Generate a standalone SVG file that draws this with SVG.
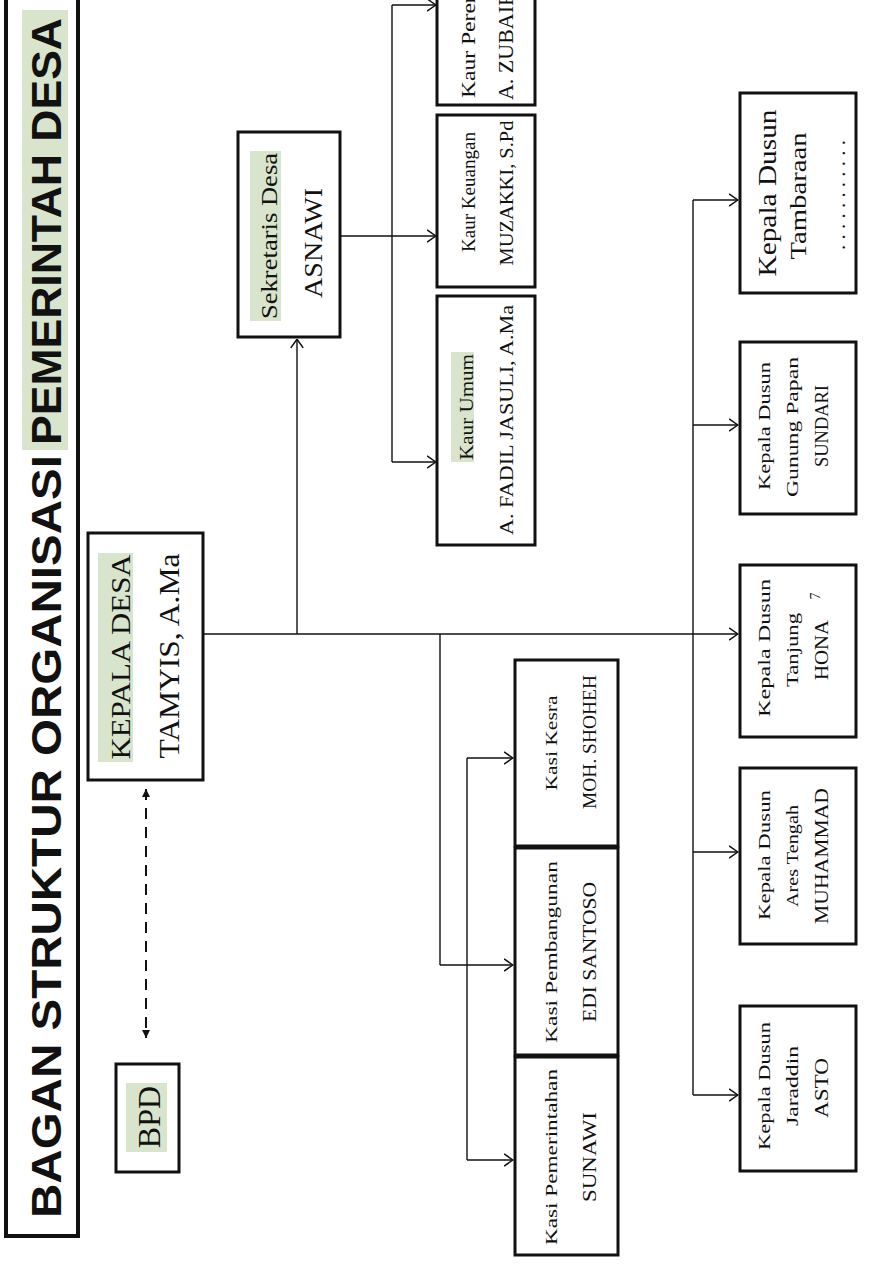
<svg xmlns="http://www.w3.org/2000/svg" width="877" height="1268" viewBox="0 0 877 1268">
  <defs>
    <style>
      .box { fill: #ffffff; stroke: #111111; stroke-width: 3; }
      .ttl { fill: #ffffff; stroke: #111111; stroke-width: 4; }
      .hl { fill: #d9e4cc; }
      .s { font-family: "Liberation Serif", "Times New Roman", serif; fill: #111111; text-anchor: middle; }
      .st { text-anchor: start; }
      .h { font-family: "Liberation Sans", Arial, sans-serif; font-weight: bold; fill: #111111; }
      .ln { fill: none; stroke: #111111; stroke-width: 1.4; }
      .ar { marker-end: url(#open); }
      .dash { fill: none; stroke: #111111; stroke-width: 2; stroke-dasharray: 11 8; }
    </style>
    <marker id="open" viewBox="0 0 10 14" refX="9.5" refY="7" markerWidth="10" markerHeight="14" markerUnits="userSpaceOnUse" orient="auto">
      <path d="M0.6,0.8 L9.3,7 L0.6,13.2" fill="none" stroke="#111111" stroke-width="1.5"/>
    </marker>
    <marker id="solid" viewBox="0 0 8 8" refX="8" refY="4" markerWidth="8" markerHeight="8" markerUnits="userSpaceOnUse" orient="auto-start-reverse">
      <path d="M0,0 L8,4 L0,8 Z" fill="#111111"/>
    </marker>
  </defs>

  <rect width="877" height="1268" fill="#ffffff"/>

  <!-- title bar -->
  <g id="title">
    <rect class="ttl" x="6" y="-2" width="72" height="1238"/>
    <rect class="hl" x="22" y="10" width="46" height="440"/>
    <text class="h" font-size="43" transform="translate(61,1218) rotate(-90)" textLength="763" lengthAdjust="spacingAndGlyphs">BAGAN STRUKTUR ORGANISASI</text>
    <text class="h" font-size="43" transform="translate(61,445) rotate(-90)" textLength="427" lengthAdjust="spacingAndGlyphs">PEMERINTAH DESA</text>
  </g>

  <!-- connectors -->
  <g id="connectors">
    <!-- Kepala Desa trunk -->
    <path class="ln ar" d="M202,634 H738"/>
    <path class="ln ar" d="M297,634 V339"/>
    <!-- Sekretaris to Kaur -->
    <path class="ln ar" d="M340,236 H436"/>
    <path class="ln" d="M392,5 V462"/>
    <path class="ln ar" d="M392,5 H436"/>
    <path class="ln ar" d="M392,462 H436"/>
    <!-- Kasi branch -->
    <path class="ln" d="M440,634 V965"/>
    <path class="ln ar" d="M440,965 H513"/>
    <path class="ln" d="M467,758 V1160"/>
    <path class="ln ar" d="M467,758 H513"/>
    <path class="ln ar" d="M467,1160 H513"/>
    <!-- Kepala Dusun branch -->
    <path class="ln" d="M693,200 V1095"/>
    <path class="ln ar" d="M693,200 H738"/>
    <path class="ln ar" d="M693,425 H738"/>
    <path class="ln ar" d="M693,852 H738"/>
    <path class="ln ar" d="M693,1095 H738"/>
    <!-- BPD coordination -->
    <path class="dash" d="M146,789 V1038" marker-start="url(#solid)" marker-end="url(#solid)"/>
  </g>

  <g id="kepala-desa">
    <rect class="box" x="88" y="533" width="115" height="247"/>
    <rect class="hl" x="98" y="553" width="35" height="209"/>
    <text class="s" font-size="28" transform="translate(130,657) rotate(-90)" textLength="205" lengthAdjust="spacingAndGlyphs">KEPALA DESA</text>
    <text class="s" font-size="29" transform="translate(179,656) rotate(-90)" textLength="205" lengthAdjust="spacingAndGlyphs">TAMYIS, A.Ma</text>
  </g>

  <g id="bpd">
    <rect class="box" x="116" y="1064" width="63" height="108"/>
    <rect class="hl" x="126" y="1083" width="41" height="69"/>
    <text class="s" font-size="32" transform="translate(160,1117) rotate(-90)">BPD</text>
  </g>

  <g id="sekretaris">
    <rect class="box" x="238" y="132" width="102" height="205"/>
    <rect class="hl" x="250" y="151" width="31" height="170"/>
    <text class="s" font-size="23" transform="translate(277,236) rotate(-90)" textLength="166" lengthAdjust="spacingAndGlyphs">Sekretaris Desa</text>
    <text class="s" font-size="25" transform="translate(322,243) rotate(-90)" textLength="110" lengthAdjust="spacingAndGlyphs">ASNAWI</text>
  </g>

  <g id="kaur-perencanaan">
    <rect class="box" x="437" y="-10" width="98" height="115"/>
    <text class="s st" font-size="19" transform="translate(475,98) rotate(-90)" textLength="172" lengthAdjust="spacingAndGlyphs">Kaur Perencanaan</text>
    <text class="s st" font-size="20" transform="translate(513,100) rotate(-90)" textLength="116" lengthAdjust="spacingAndGlyphs">A. ZUBAIRI</text>
  </g>

  <g id="kaur-keuangan">
    <rect class="box" x="437" y="115" width="98" height="172"/>
    <text class="s" font-size="18" transform="translate(475,192) rotate(-90)" textLength="120" lengthAdjust="spacingAndGlyphs">Kaur Keuangan</text>
    <text class="s" font-size="19" transform="translate(513,193) rotate(-90)" textLength="145" lengthAdjust="spacingAndGlyphs">MUZAKKI, S.Pd</text>
  </g>

  <g id="kaur-umum">
    <rect class="box" x="437" y="296" width="98" height="249"/>
    <rect class="hl" x="451" y="352" width="23" height="110"/>
    <text class="s" font-size="18" transform="translate(473,407) rotate(-90)" textLength="106" lengthAdjust="spacingAndGlyphs">Kaur Umum</text>
    <text class="s" font-size="19" transform="translate(513,420) rotate(-90)" textLength="230" lengthAdjust="spacingAndGlyphs">A. FADIL JASULI, A.Ma</text>
  </g>

  <g id="kasi-kesra">
    <rect class="box" x="515" y="660" width="103" height="186"/>
    <text class="s" font-size="17" transform="translate(557,743) rotate(-90)" textLength="95" lengthAdjust="spacingAndGlyphs">Kasi Kesra</text>
    <text class="s" font-size="19" transform="translate(596,742) rotate(-90)" textLength="134" lengthAdjust="spacingAndGlyphs">MOH. SHOHEH</text>
  </g>

  <g id="kasi-pembangunan">
    <rect class="box" x="515" y="848" width="103" height="207"/>
    <text class="s" font-size="17" transform="translate(557,952) rotate(-90)" textLength="182" lengthAdjust="spacingAndGlyphs">Kasi Pembangunan</text>
    <text class="s" font-size="19" transform="translate(596,952) rotate(-90)" textLength="140" lengthAdjust="spacingAndGlyphs">EDI SANTOSO</text>
  </g>

  <g id="kasi-pemerintahan">
    <rect class="box" x="515" y="1057" width="103" height="198"/>
    <text class="s" font-size="17" transform="translate(557,1157) rotate(-90)" textLength="176" lengthAdjust="spacingAndGlyphs">Kasi Pemerintahan</text>
    <text class="s" font-size="19" transform="translate(596,1157) rotate(-90)" textLength="90" lengthAdjust="spacingAndGlyphs">SUNAWI</text>
  </g>

  <g id="dusun-tambaraan">
    <rect class="box" x="740" y="93" width="116" height="200"/>
    <text class="s" font-size="25" transform="translate(776,193) rotate(-90)" textLength="167" lengthAdjust="spacingAndGlyphs">Kepala Dusun</text>
    <text class="s" font-size="24" transform="translate(806,196) rotate(-90)" textLength="127" lengthAdjust="spacingAndGlyphs">Tambaraan</text>
    <text class="s" font-size="20" transform="translate(845,195) rotate(-90)" textLength="110" lengthAdjust="spacingAndGlyphs">. . . . . . . . . . .</text>
  </g>

  <g id="dusun-gunung-papan">
    <rect class="box" x="740" y="342" width="116" height="172"/>
    <text class="s" font-size="17" transform="translate(770,426) rotate(-90)" textLength="128" lengthAdjust="spacingAndGlyphs">Kepala Dusun</text>
    <text class="s" font-size="17" transform="translate(798,427) rotate(-90)" textLength="140" lengthAdjust="spacingAndGlyphs">Gunung Papan</text>
    <text class="s" font-size="19" transform="translate(828,426) rotate(-90)" textLength="82" lengthAdjust="spacingAndGlyphs">SUNDARI</text>
  </g>

  <g id="dusun-tanjung">
    <rect class="box" x="740" y="565" width="116" height="172"/>
    <text class="s" font-size="17" transform="translate(770,648) rotate(-90)" textLength="138" lengthAdjust="spacingAndGlyphs">Kepala Dusun</text>
    <text class="s" font-size="17" transform="translate(798,650) rotate(-90)" textLength="74" lengthAdjust="spacingAndGlyphs">Tanjung</text>
    <text class="s" font-size="19" transform="translate(828,650) rotate(-90)" textLength="60" lengthAdjust="spacingAndGlyphs">HONA</text>
  </g>

  <g id="dusun-ares-tengah">
    <rect class="box" x="740" y="768" width="116" height="176"/>
    <text class="s" font-size="17" transform="translate(770,855) rotate(-90)" textLength="130" lengthAdjust="spacingAndGlyphs">Kepala Dusun</text>
    <text class="s" font-size="17" transform="translate(798,856) rotate(-90)" textLength="102" lengthAdjust="spacingAndGlyphs">Ares Tengah</text>
    <text class="s" font-size="19" transform="translate(828,856) rotate(-90)" textLength="136" lengthAdjust="spacingAndGlyphs">MUHAMMAD</text>
  </g>

  <g id="dusun-jaraddin">
    <rect class="box" x="740" y="1006" width="116" height="165"/>
    <text class="s" font-size="17" transform="translate(770,1086) rotate(-90)" textLength="128" lengthAdjust="spacingAndGlyphs">Kepala Dusun</text>
    <text class="s" font-size="17" transform="translate(798,1086) rotate(-90)" textLength="80" lengthAdjust="spacingAndGlyphs">Jaraddin</text>
    <text class="s" font-size="19" transform="translate(828,1088) rotate(-90)" textLength="60" lengthAdjust="spacingAndGlyphs">ASTO</text>
  </g>

  <!-- page number -->
  <text class="s" font-size="14" transform="translate(820,596) rotate(-90)">7</text>
</svg>
